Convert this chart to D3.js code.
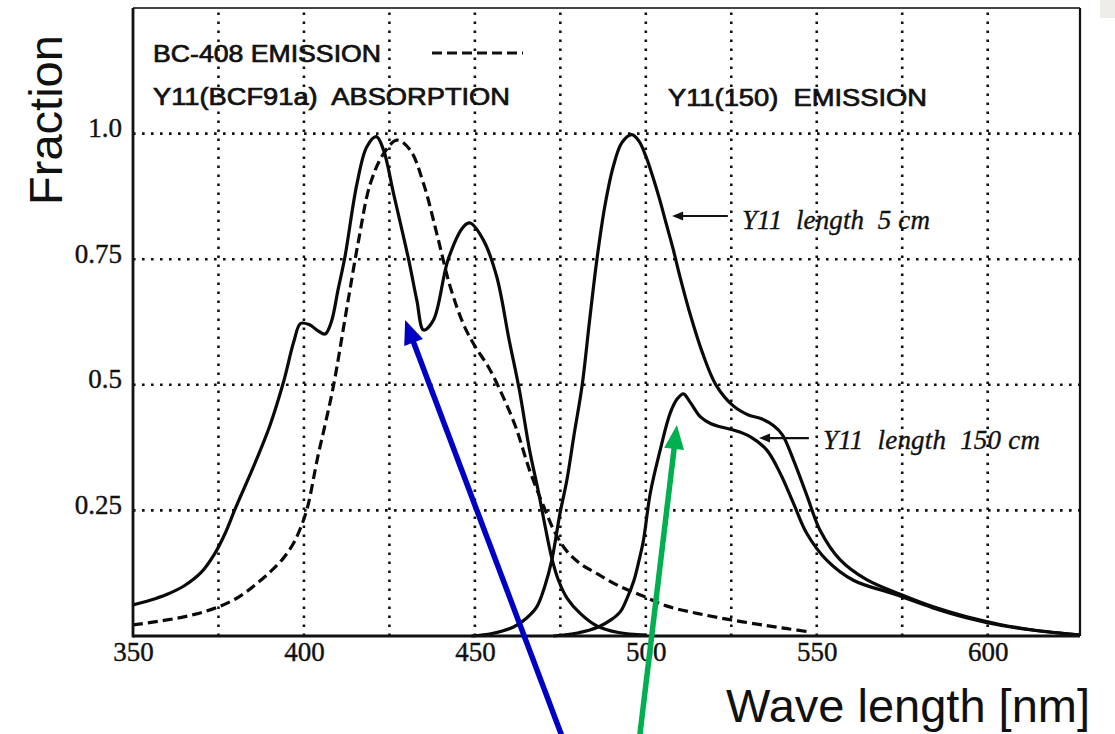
<!DOCTYPE html>
<html>
<head>
<meta charset="utf-8">
<script src="https://cdn.jsdelivr.net/npm/d3@7"></script>
<style>
  html, body { margin: 0; padding: 0; background: #fff; }
  svg { display: block; }
</style>
</head>
<body>
<div id="chart"></div>
<script>
// axis ticks
const wavelengthTicks = [350, 400, 450, 500, 550, 600];
const wavelengthGrid = [375, 400, 425, 450, 475, 500, 525, 550, 575, 600];
const fractionTicks = [0.25, 0.5, 0.75, 1.0];

// [wavelength nm, fraction]
const y11Absorption = [
  [350, 0.062], [355, 0.071], [360, 0.083], [365, 0.1], [370, 0.127], [374, 0.165],
  [377, 0.205], [380, 0.255], [385, 0.333], [390, 0.418], [394, 0.505], [397, 0.585],
  [399, 0.622], [401.5, 0.62], [404, 0.608], [406.2, 0.601], [408, 0.625], [410, 0.69],
  [412, 0.755], [415.5, 0.9], [418.4, 0.974], [421.2, 0.994], [423.3, 0.967], [426.2, 0.881],
  [430.6, 0.75], [433, 0.669], [435, 0.609], [437.9, 0.629], [442.2, 0.75],
  [446.7, 0.815], [448.6, 0.822], [452.5, 0.788], [456.4, 0.715], [460, 0.59],
  [463, 0.49], [466, 0.37], [468.5, 0.29], [470.5, 0.22], [472.5, 0.155], [474.5, 0.11],
  [477, 0.075], [480.8, 0.045], [485.7, 0.02], [492, 0.007], [500, 0.002]
];

const bc408Emission = [
  [350, 0.022], [360, 0.032], [368, 0.043], [375, 0.058], [381, 0.078], [386.3, 0.105],
  [390.5, 0.13], [394, 0.155], [397, 0.185], [399, 0.215], [401, 0.255], [404, 0.355],
  [406.5, 0.43], [408.7, 0.5], [412.6, 0.655], [416, 0.788], [419.4, 0.9], [423.3, 0.96],
  [427.2, 0.987], [431.1, 0.967], [435, 0.9], [438.9, 0.8], [442.8, 0.695], [446.7, 0.62],
  [450, 0.577], [454, 0.535], [458, 0.48], [462, 0.415], [466, 0.33], [470, 0.26],
  [473.5, 0.205], [477, 0.168], [481, 0.143], [486, 0.123], [492, 0.1], [499, 0.08],
  [506, 0.06], [515, 0.045], [525, 0.032], [535, 0.021], [542, 0.014], [548, 0.008]
];

const y11Emission5cm = [
  [449, 0.0], [455, 0.005], [461.3, 0.018], [465, 0.035], [468.1, 0.058], [470.5, 0.1],
  [472.5, 0.151], [474.9, 0.244], [476.9, 0.31], [479, 0.4], [481.4, 0.5], [483.5, 0.625],
  [485.7, 0.75], [488, 0.855], [490.5, 0.935], [493, 0.982], [495.9, 0.998], [498, 0.985],
  [500, 0.955], [502, 0.915], [504, 0.87], [506, 0.82], [508, 0.77], [510, 0.715],
  [513, 0.64], [516.5, 0.565], [520.5, 0.5], [525.6, 0.458], [530, 0.44], [534, 0.432],
  [537.5, 0.418], [540, 0.4], [543.2, 0.35], [547.1, 0.28], [551, 0.21], [556.8, 0.152],
  [564.6, 0.112], [574.4, 0.083], [584.1, 0.058], [593.9, 0.038], [603.6, 0.023],
  [613.3, 0.012], [627, 0.002]
];

const y11Emission150cm = [
  [473, 0.0], [480, 0.006], [486.1, 0.018], [490, 0.033], [492.5, 0.048], [494.5, 0.075],
  [496.5, 0.11], [498, 0.15], [499.3, 0.19], [501.3, 0.284], [504.2, 0.37], [507.1, 0.443],
  [509.2, 0.472], [511, 0.482], [513, 0.465], [516, 0.436], [518.9, 0.423], [522, 0.416],
  [525.6, 0.41], [530.5, 0.397], [535.4, 0.37], [539.3, 0.324], [543.2, 0.264],
  [547.1, 0.204], [552.9, 0.151], [560.7, 0.111], [572.4, 0.084], [584, 0.056],
  [594, 0.036], [604, 0.021], [614, 0.011], [627, 0.002]
];

const width = 1115;
const height = 734;
const plot = { left: 133, right: 1080, top: 8, bottom: 636 };

const svg = d3.select('#chart')
  .append('svg')
  .attr('width', width)
  .attr('height', height)
  .attr('viewBox', `0 0 ${width} ${height}`);

svg.append('rect').attr('width', width).attr('height', height).attr('fill', '#fff');
svg.append('rect').attr('x', 1100).attr('y', 0).attr('width', 15).attr('height', 18).attr('fill', '#efede9');

const x = d3.scaleLinear().domain([350, 627]).range([plot.left, plot.right]);
const y = d3.scaleLinear().domain([0, 1.25]).range([plot.bottom, plot.top]);

// dotted grid
const grid = svg.append('g')
  .attr('stroke', '#111')
  .attr('stroke-width', 2.6)
  .attr('stroke-dasharray', '2.6,6.4');

grid.selectAll('line.v')
  .data(wavelengthGrid)
  .join('line')
  .attr('class', 'v')
  .attr('x1', d => x(d)).attr('x2', d => x(d))
  .attr('y1', plot.bottom).attr('y2', plot.top);

grid.selectAll('line.h')
  .data(fractionTicks)
  .join('line')
  .attr('class', 'h')
  .attr('x1', plot.left).attr('x2', plot.right)
  .attr('y1', d => y(d)).attr('y2', d => y(d));

// curves
const line = d3.line()
  .x(d => x(d[0]))
  .y(d => y(d[1]))
  .curve(d3.curveCatmullRom.alpha(0.5));

const curves = svg.append('g').attr('fill', 'none').attr('stroke', '#0a0a0a').attr('stroke-linejoin', 'round');

[y11Absorption, y11Emission5cm, y11Emission150cm].forEach(series => {
  curves.append('path')
    .datum(series)
    .attr('stroke-width', 3.2)
    .attr('d', line);
});

curves.append('path')
  .datum(bc408Emission)
  .attr('stroke-width', 3.2)
  .attr('stroke-dasharray', '10,5')
  .attr('d', line);

// frame
const frame = svg.append('g').attr('stroke', '#111');
frame.append('line').attr('x1', plot.left).attr('x2', plot.right).attr('y1', plot.top).attr('y2', plot.top)
  .attr('stroke-width', 1.8).attr('stroke', '#444');
frame.append('line').attr('x1', plot.right).attr('x2', plot.right).attr('y1', plot.top).attr('y2', plot.bottom)
  .attr('stroke-width', 2.2);
frame.append('line').attr('x1', plot.left).attr('x2', plot.left).attr('y1', plot.top).attr('y2', plot.bottom + 1.5)
  .attr('stroke-width', 2.8);
frame.append('line').attr('x1', plot.left).attr('x2', plot.right).attr('y1', plot.bottom).attr('y2', plot.bottom)
  .attr('stroke-width', 3.2);

// axes
const serif = '"Liberation Serif", "Times New Roman", serif';
const xAxis = svg.append('g')
  .attr('transform', `translate(0, ${plot.bottom})`)
  .call(d3.axisBottom(x).tickValues(wavelengthTicks).tickSize(0).tickPadding(6).tickFormat(d3.format('d')));
xAxis.select('.domain').remove();
xAxis.selectAll('text')
  .attr('fill', '#111')
  .attr('stroke', '#111')
  .attr('stroke-width', 0.4)
  .style('font-family', serif)
  .style('font-size', '27px');

const yAxis = svg.append('g')
  .attr('transform', `translate(${plot.left}, 0)`)
  .call(d3.axisLeft(y).tickValues(fractionTicks).tickSize(0).tickPadding(11)
    .tickFormat(d => (d === 1 ? '1.0' : String(d))));
yAxis.select('.domain').remove();
yAxis.selectAll('text')
  .attr('dy', 3)
  .attr('fill', '#111')
  .attr('stroke', '#111')
  .attr('stroke-width', 0.4)
  .style('font-family', serif)
  .style('font-size', '27px');

// axis titles
svg.append('text')
  .attr('transform', 'translate(62, 120) rotate(-90)')
  .attr('text-anchor', 'middle')
  .style('font-family', '"Liberation Sans", Arial, sans-serif')
  .style('font-size', '47px')
  .attr('fill', '#111')
  .text('Fraction');

svg.append('text')
  .attr('x', 1090)
  .attr('y', 722)
  .attr('text-anchor', 'end')
  .style('font-family', '"Liberation Sans", Arial, sans-serif')
  .style('font-size', '47px')
  .attr('fill', '#111')
  .text('Wave length [nm]');

// legend texts
const legendFont = '"Liberation Sans", Arial, sans-serif';
[
  { text: 'BC-408 EMISSION', x: 153, y: 62, w: 228 },
  { text: 'Y11(BCF91a)  ABSORPTION', x: 153, y: 105, w: 357 },
  { text: 'Y11(150)  EMISSION', x: 668, y: 106, w: 259 }
].forEach(d => {
  svg.append('text')
    .attr('x', d.x)
    .attr('y', d.y)
    .attr('textLength', d.w)
    .attr('lengthAdjust', 'spacingAndGlyphs')
    .attr('fill', '#111')
    .attr('stroke', '#111')
    .attr('stroke-width', 0.7)
    .style('font-family', legendFont)
    .style('font-size', '23px')
    .style('white-space', 'pre')
    .text(d.text);
});

svg.append('line')
  .attr('x1', 432).attr('x2', 523)
  .attr('y1', 53).attr('y2', 53)
  .attr('stroke', '#111')
  .attr('stroke-width', 3)
  .attr('stroke-dasharray', '10,5');

// curve labels with arrows
const arrowHead = (g, tipX, tipY, ux, uy, len, half, color) => {
  const bx = tipX - ux * len;
  const by = tipY - uy * len;
  g.append('path')
    .attr('d', `M${tipX},${tipY}L${bx - uy * half},${by + ux * half}L${bx + uy * half},${by - ux * half}Z`)
    .attr('fill', color);
};

const curveLabels = [
  { text: 'Y11  length  5 cm', tip: [507.7, 0.836], tail: [524, 0.836], tx: 528.1, ty: 0.811, w: 188 },
  { text: 'Y11  length  150 cm', tip: [533.1, 0.394], tail: [547.7, 0.394], tx: 551.8, ty: 0.3715, w: 217 }
];

const labels = svg.append('g');
curveLabels.forEach(d => {
  labels.append('line')
    .attr('x1', x(d.tip[0]) + 6).attr('x2', x(d.tail[0]))
    .attr('y1', y(d.tip[1])).attr('y2', y(d.tail[1]))
    .attr('stroke', '#111')
    .attr('stroke-width', 2.2);
  arrowHead(labels, x(d.tip[0]), y(d.tip[1]), -1, 0, 11, 4.5, '#111');
  labels.append('text')
    .attr('x', x(d.tx))
    .attr('y', y(d.ty))
    .attr('textLength', d.w)
    .attr('lengthAdjust', 'spacing')
    .attr('fill', '#111')
    .attr('stroke', '#111')
    .attr('stroke-width', 0.35)
    .style('font-family', serif)
    .style('font-style', 'italic')
    .style('font-size', '27px')
    .style('white-space', 'pre')
    .text(d.text);
});

// coloured pointer arrows laid over the chart
const pointers = [
  { tip: [429.6, 0.629], tail: [475.5, -0.2], color: '#0000c4' },
  { tip: [509.1, 0.42], tail: [498.2, -0.2], color: '#00b050' }
];

const overlay = svg.append('g');
pointers.forEach(d => {
  const tx = x(d.tip[0]);
  const ty = y(d.tip[1]);
  const sx = x(d.tail[0]);
  const sy = y(d.tail[1]);
  const len = Math.hypot(tx - sx, ty - sy);
  const ux = (tx - sx) / len;
  const uy = (ty - sy) / len;
  overlay.append('line')
    .attr('x1', sx).attr('y1', sy)
    .attr('x2', tx - ux * 18).attr('y2', ty - uy * 18)
    .attr('stroke', d.color)
    .attr('stroke-width', 5.5);
  arrowHead(overlay, tx, ty, ux, uy, 24, 10, d.color);
});
</script>
</body>
</html>
